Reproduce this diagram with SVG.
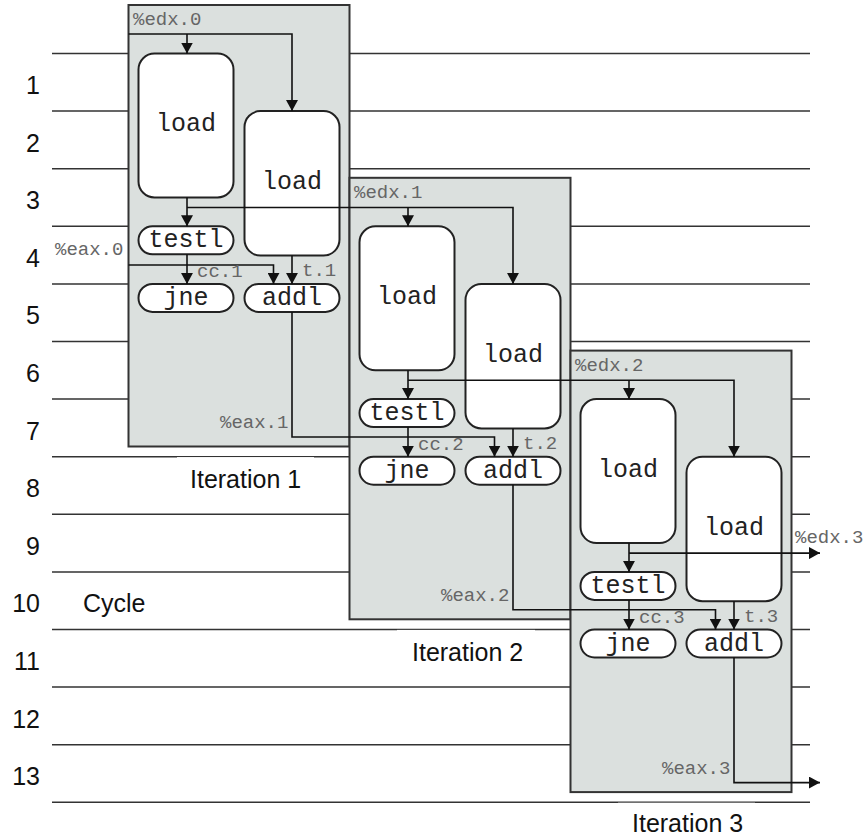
<svg xmlns="http://www.w3.org/2000/svg" width="865" height="838" viewBox="0 0 865 838">
<defs>
<style>
.grid{stroke:#333;stroke-width:1.5;fill:none}
.row{font-family:"Liberation Sans",Arial,sans-serif;font-size:25px;fill:#111;text-anchor:end}
.cap{font-family:"Liberation Sans",Arial,sans-serif;font-size:25px;fill:#111}
.box{fill:#dbe0de;stroke:#333;stroke-width:2}
.node{fill:#fff;stroke:#222;stroke-width:2}
.nt{font-family:"Liberation Mono","Courier New",monospace;font-size:25px;fill:#222;text-anchor:middle}
.lbl{font-family:"Liberation Mono","Courier New",monospace;font-size:19px;fill:#666}
.wire{fill:none;stroke:#111;stroke-width:1.6}
.arr{fill:none;stroke:#111;stroke-width:1.6;marker-end:url(#ah)}
</style>
<marker id="ah" markerUnits="userSpaceOnUse" markerWidth="12" markerHeight="12" refX="11" refY="6" orient="auto" viewBox="0 0 12 12">
<path d="M0,0 L11,6 L0,12 z" fill="#111"/>
</marker>
</defs>
<rect width="865" height="838" fill="#fff"/>
<g id="grid">
<path class="grid" d="M52,53.5H810M52,111.1H810M52,168.7H810M52,226.3H810M52,283.9H810M52,341.5H810M52,399.1H810M52,456.7H810M52,514.3H810M52,571.9H810M52,629.5H810M52,687.1H810M52,744.7H810M52,802.3H810"/>
</g>
<g id="rows">
<text class="row" x="40" y="94">1</text>
<text class="row" x="40" y="151.5">2</text>
<text class="row" x="40" y="209">3</text>
<text class="row" x="40" y="266.5">4</text>
<text class="row" x="40" y="324">5</text>
<text class="row" x="40" y="382">6</text>
<text class="row" x="40" y="439.5">7</text>
<text class="row" x="40" y="497">8</text>
<text class="row" x="40" y="554.5">9</text>
<text class="row" x="40" y="612">10</text>
<text class="row" x="40" y="670">11</text>
<text class="row" x="40" y="727.5">12</text>
<text class="row" x="40" y="785">13</text>
<text class="cap" x="83" y="612">Cycle</text>
</g>
<g id="iteration-labels">
<rect x="177" y="457.1" width="137" height="40" fill="#fff"/>
<text class="cap" x="190" y="488">Iteration 1</text>
<rect x="397" y="629.9" width="138" height="40" fill="#fff"/>
<text class="cap" x="412" y="661">Iteration 2</text>
<rect x="618" y="802.7" width="137" height="35" fill="#fff"/>
<text class="cap" x="632" y="832">Iteration 3</text>
</g>
<g id="iteration1">
<rect class="box" x="128.5" y="5" width="221" height="441.5"/>
<text class="lbl" x="133" y="25">%edx.0</text>
</g>
<g id="iteration2">
<rect class="box" x="349.5" y="177.8" width="221" height="441.5"/>
<text class="lbl" x="354" y="197.8">%edx.1</text>
</g>
<g id="iteration3">
<rect class="box" x="570.5" y="350.6" width="221" height="441.5"/>
<text class="lbl" x="575" y="370.6">%edx.2</text>
</g>
<g id="i1-load1"><rect class="node" x="138.5" y="53.5" width="95" height="144" rx="16"/><text class="nt" x="186" y="131">load</text></g>
<g id="i1-load2"><rect class="node" x="244.5" y="111.1" width="95" height="144.5" rx="16"/><text class="nt" x="292" y="189">load</text></g>
<g id="i1-testl"><rect class="node" x="138.5" y="226.3" width="95" height="28" rx="14"/><text class="nt" x="186" y="247">testl</text></g>
<g id="i1-jne"><rect class="node" x="138.5" y="283.9" width="95" height="28" rx="14"/><text class="nt" x="186" y="305">jne</text></g>
<g id="i1-addl"><rect class="node" x="244.5" y="283.9" width="95" height="28" rx="14"/><text class="nt" x="292" y="305">addl</text></g>
<g id="i2-load1"><rect class="node" x="359.5" y="226.3" width="95" height="144" rx="16"/><text class="nt" x="407" y="303.8">load</text></g>
<g id="i2-load2"><rect class="node" x="465.5" y="283.9" width="95" height="144.5" rx="16"/><text class="nt" x="513" y="361.8">load</text></g>
<g id="i2-testl"><rect class="node" x="359.5" y="399.1" width="95" height="28" rx="14"/><text class="nt" x="407" y="419.8">testl</text></g>
<g id="i2-jne"><rect class="node" x="359.5" y="456.7" width="95" height="28" rx="14"/><text class="nt" x="407" y="477.8">jne</text></g>
<g id="i2-addl"><rect class="node" x="465.5" y="456.7" width="95" height="28" rx="14"/><text class="nt" x="513" y="477.8">addl</text></g>
<g id="i3-load1"><rect class="node" x="580.5" y="399.1" width="95" height="144" rx="16"/><text class="nt" x="628" y="476.6">load</text></g>
<g id="i3-load2"><rect class="node" x="686.5" y="456.7" width="95" height="144.5" rx="16"/><text class="nt" x="734" y="534.6">load</text></g>
<g id="i3-testl"><rect class="node" x="580.5" y="571.9" width="95" height="28" rx="14"/><text class="nt" x="628" y="592.6">testl</text></g>
<g id="i3-jne"><rect class="node" x="580.5" y="629.5" width="95" height="28" rx="14"/><text class="nt" x="628" y="650.6">jne</text></g>
<g id="i3-addl"><rect class="node" x="686.5" y="629.5" width="95" height="28" rx="14"/><text class="nt" x="734" y="650.6">addl</text></g>
<g id="connectors">
<path class="arr" d="M128.5,34H292V111.1"/>
<path class="arr" d="M187,34V53.5"/>
<path class="arr" d="M187,197.5V226.3"/>
<path class="arr" d="M187,254.3V283.9"/>
<path class="arr" d="M128.5,265H273.5V283.9"/>
<path class="arr" d="M292,255.6V283.9"/>
<path class="arr" d="M187,207.5H513V283.9"/>
<path class="arr" d="M408,207.5V226.3"/>
<path class="arr" d="M292,311.9V437H494.5V456.7"/>
<path class="arr" d="M408,370.3V399.1"/>
<path class="arr" d="M408,427.1V456.7"/>
<path class="arr" d="M513,428.4V456.7"/>
<path class="arr" d="M408,380.3H734V456.7"/>
<path class="arr" d="M629,380.3V399.1"/>
<path class="arr" d="M513,484.7V609.8H715.5V629.5"/>
<path class="arr" d="M629,543.1V571.9"/>
<path class="arr" d="M629,599.9V629.5"/>
<path class="arr" d="M734,601.2V629.5"/>
<path class="arr" d="M629,553.1H820"/>
<path class="arr" d="M734,657.5V782.6H820"/>
</g>
<g id="labels">
<text class="lbl" x="55" y="255">%eax.0</text>
<text class="lbl" x="197" y="277">cc.1</text>
<text class="lbl" x="302" y="276">t.1</text>
<text class="lbl" x="220" y="428">%eax.1</text>
<text class="lbl" x="418" y="449.8">cc.2</text>
<text class="lbl" x="523" y="448.8">t.2</text>
<text class="lbl" x="441" y="600.8">%eax.2</text>
<text class="lbl" x="639" y="622.6">cc.3</text>
<text class="lbl" x="744" y="621.6">t.3</text>
<text class="lbl" x="662" y="773.6">%eax.3</text>
<text class="lbl" x="795" y="543">%edx.3</text>
</g>
</svg>
